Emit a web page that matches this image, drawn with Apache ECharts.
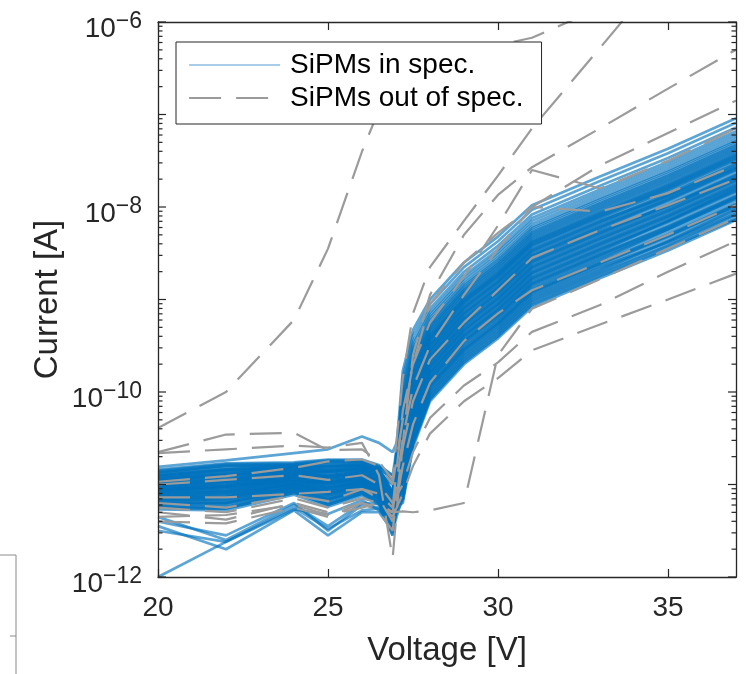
<!DOCTYPE html>
<html><head><meta charset="utf-8">
<script src="https://cdn.jsdelivr.net/npm/echarts@6/dist/echarts.min.js"></script>
<style>html,body{margin:0;padding:0;background:#fff;}#c{width:746px;height:674px;}</style>
</head><body><div id="c"></div>
<script>
// Measurement voltages (V)
const voltages = [20,22,24,25,26,26.5,26.9,27.2,27.5,28,29,30,31,33,35,37];

// log10 of current (A) for each SiPM in spec, one row per device
const inSpecLog10Current = [
[-11.00,-10.96,-10.89,-10.92,-10.88,-10.95,-11.25,-11.20,-10.60,-10.10,-9.70,-9.42,-9.08,-8.77,-8.47,-8.14],
[-11.17,-11.16,-11.03,-11.12,-11.03,-11.12,-11.40,-11.17,-10.57,-10.08,-9.68,-9.40,-9.06,-8.75,-8.45,-8.12],
[-10.90,-10.84,-10.81,-10.80,-10.79,-10.85,-11.10,-11.16,-10.56,-10.07,-9.67,-9.39,-9.05,-8.74,-8.44,-8.13],
[-11.08,-11.06,-10.95,-11.02,-10.95,-11.03,-11.35,-11.14,-10.54,-10.05,-9.65,-9.37,-9.03,-8.72,-8.42,-8.09],
[-11.25,-11.26,-11.09,-11.22,-11.10,-11.20,-11.50,-11.12,-10.53,-10.04,-9.64,-9.36,-9.02,-8.71,-8.41,-8.08],
[-10.95,-10.90,-10.85,-10.86,-10.83,-10.90,-11.14,-11.10,-10.50,-10.02,-9.62,-9.34,-9.00,-8.69,-8.37,-8.02],
[-11.05,-11.02,-10.93,-10.98,-10.92,-11.00,-11.10,-11.08,-10.49,-10.01,-9.61,-9.33,-8.99,-8.68,-8.38,-8.05],
[-11.13,-11.12,-10.99,-11.08,-10.99,-11.08,-11.45,-11.06,-10.47,-9.99,-9.59,-9.31,-8.97,-8.66,-8.36,-8.03],
[-10.87,-10.80,-10.79,-10.76,-10.76,-10.82,-10.95,-11.04,-10.46,-9.98,-9.58,-9.30,-8.96,-8.65,-8.38,-8.07],
[-11.20,-11.20,-11.05,-11.16,-11.06,-11.15,-11.34,-11.02,-10.43,-9.96,-9.56,-9.28,-8.94,-8.63,-8.33,-8.00],
[-10.98,-10.94,-10.87,-10.90,-10.86,-10.93,-11.30,-11.01,-10.42,-9.95,-9.55,-9.27,-8.93,-8.62,-8.32,-7.99],
[-11.40,-11.55,-11.20,-11.50,-11.22,-11.25,-11.45,-10.98,-10.40,-9.93,-9.53,-9.25,-8.91,-8.60,-8.30,-7.97],
[-11.03,-11.00,-10.91,-10.96,-10.90,-10.98,-11.42,-10.97,-10.39,-9.92,-9.52,-9.24,-8.90,-8.59,-8.29,-7.96],
[-10.93,-10.88,-10.83,-10.84,-10.81,-10.88,-11.00,-10.94,-10.37,-9.90,-9.50,-9.22,-8.88,-8.57,-8.24,-7.90],
[-11.10,-11.08,-10.97,-11.04,-10.97,-11.05,-11.26,-10.93,-10.35,-9.89,-9.49,-9.21,-8.87,-8.56,-8.26,-7.93],
[-11.15,-11.14,-11.01,-11.10,-11.01,-11.10,-11.52,-10.90,-10.33,-9.87,-9.47,-9.19,-8.85,-8.54,-8.24,-7.91],
[-10.85,-10.78,-10.77,-10.74,-10.74,-10.80,-10.90,-10.89,-10.32,-9.86,-9.46,-9.18,-8.84,-8.53,-8.23,-7.90],
[-11.23,-11.24,-11.07,-11.20,-11.08,-11.18,-11.36,-10.86,-10.30,-9.84,-9.44,-9.16,-8.82,-8.51,-8.21,-7.88],
[-11.01,-10.97,-10.90,-10.93,-10.88,-10.96,-11.30,-10.85,-10.29,-9.83,-9.43,-9.15,-8.81,-8.50,-8.20,-7.87],
[-11.07,-11.04,-10.95,-11.00,-10.94,-11.02,-11.24,-10.82,-10.26,-9.81,-9.41,-9.13,-8.79,-8.48,-8.15,-7.80],
[-10.96,-10.91,-10.86,-10.87,-10.84,-10.91,-11.35,-10.81,-10.25,-9.80,-9.40,-9.12,-8.78,-8.47,-8.17,-7.84],
[-11.27,-11.28,-11.11,-11.24,-11.12,-11.22,-11.55,-10.78,-10.23,-9.78,-9.38,-9.10,-8.76,-8.45,-8.15,-7.82],
[-10.91,-10.85,-10.82,-10.81,-10.79,-10.86,-11.11,-10.77,-10.22,-9.77,-9.37,-9.09,-8.75,-8.44,-8.14,-7.81],
[-11.12,-11.10,-10.99,-11.06,-10.98,-11.07,-11.20,-10.75,-10.19,-9.75,-9.35,-9.07,-8.73,-8.42,-8.12,-7.79],
[-11.05,-11.02,-10.93,-10.98,-10.92,-11.00,-11.38,-10.73,-10.18,-9.74,-9.34,-9.06,-8.72,-8.41,-8.11,-7.78],
[-10.81,-10.74,-10.66,-10.62,-10.48,-10.55,-10.65,-10.40,-10.16,-9.72,-9.32,-9.04,-8.70,-8.39,-8.09,-7.76],
[-11.18,-11.18,-11.03,-11.14,-11.04,-11.13,-11.32,-10.69,-10.15,-9.71,-9.31,-9.03,-8.69,-8.38,-8.08,-7.75],
[-10.99,-10.95,-10.88,-10.91,-10.87,-10.94,-11.45,-10.67,-10.12,-9.69,-9.29,-9.01,-8.67,-8.36,-8.06,-7.73],
[-12.00,-11.62,-11.27,-11.32,-11.17,-11.28,-11.44,-10.65,-10.11,-9.68,-9.28,-9.00,-8.66,-8.35,-8.05,-7.72],
[-10.94,-10.89,-10.84,-10.85,-10.82,-10.89,-11.13,-10.63,-10.09,-9.66,-9.26,-8.98,-8.64,-8.33,-8.03,-7.70],
[-11.09,-11.07,-10.96,-11.03,-10.96,-11.04,-11.50,-10.62,-10.08,-9.65,-9.25,-8.97,-8.63,-8.32,-8.02,-7.69],
[-11.02,-10.98,-10.91,-10.94,-10.89,-10.97,-11.20,-10.59,-10.06,-9.63,-9.23,-8.95,-8.61,-8.30,-8.00,-7.67],
[-11.21,-11.21,-11.06,-11.17,-11.06,-11.16,-11.35,-10.58,-10.04,-9.62,-9.22,-8.94,-8.60,-8.29,-7.99,-7.66],
[-10.86,-10.79,-10.78,-10.75,-10.75,-10.81,-10.95,-10.55,-10.02,-9.60,-9.20,-8.92,-8.58,-8.27,-7.97,-7.64],
[-11.14,-11.13,-11.00,-11.09,-11.00,-11.09,-11.29,-10.54,-10.01,-9.59,-9.19,-8.91,-8.57,-8.26,-7.99,-7.68],
[-10.97,-10.92,-10.87,-10.88,-10.85,-10.92,-11.30,-10.51,-9.99,-9.57,-9.17,-8.89,-8.55,-8.24,-7.94,-7.61],
[-11.06,-11.03,-10.94,-10.99,-10.93,-11.01,-11.48,-10.50,-9.97,-9.56,-9.16,-8.88,-8.54,-8.23,-7.93,-7.60],
[-11.25,-11.26,-11.09,-11.22,-11.10,-11.20,-11.38,-10.47,-9.95,-9.54,-9.14,-8.86,-8.52,-8.21,-7.91,-7.58],
[-10.92,-10.86,-10.83,-10.82,-10.80,-10.87,-11.00,-10.46,-9.94,-9.53,-9.13,-8.85,-8.51,-8.20,-7.90,-7.57],
[-11.11,-11.09,-10.98,-11.05,-10.97,-11.06,-11.40,-10.43,-9.92,-9.51,-9.11,-8.83,-8.49,-8.18,-7.88,-7.55],
[-11.04,-11.01,-10.92,-10.97,-10.91,-10.99,-11.21,-10.42,-9.91,-9.50,-9.10,-8.82,-8.48,-8.17,-7.87,-7.54],
[-10.88,-10.82,-10.79,-10.78,-10.77,-10.83,-11.08,-10.39,-9.88,-9.48,-9.08,-8.80,-8.46,-8.15,-7.88,-7.57],
[-11.16,-11.15,-11.02,-11.11,-11.02,-11.11,-11.45,-10.38,-9.87,-9.47,-9.07,-8.79,-8.45,-8.14,-7.84,-7.51],
[-11.00,-10.96,-10.89,-10.92,-10.88,-10.95,-11.18,-10.36,-9.85,-9.45,-9.05,-8.77,-8.43,-8.12,-7.82,-7.49],
[-11.50,-11.62,-11.25,-11.48,-11.28,-11.26,-11.45,-10.34,-9.84,-9.44,-9.04,-8.76,-8.42,-8.11,-7.81,-7.48],
[-10.95,-10.90,-10.85,-10.86,-10.83,-10.90,-11.28,-10.32,-9.81,-9.42,-9.02,-8.74,-8.40,-8.09,-7.79,-7.46],
[-11.08,-11.06,-10.95,-11.02,-10.95,-11.03,-11.24,-10.30,-9.80,-9.41,-9.01,-8.73,-8.39,-8.08,-7.78,-7.45],
[-10.90,-10.84,-10.81,-10.80,-10.79,-10.85,-11.10,-10.28,-9.78,-9.39,-8.99,-8.71,-8.37,-8.06,-7.76,-7.43],
[-11.19,-11.19,-11.04,-11.15,-11.05,-11.14,-11.50,-10.26,-9.77,-9.38,-8.98,-8.70,-8.36,-8.05,-7.75,-7.42],
[-11.03,-11.00,-10.91,-10.96,-10.90,-10.98,-11.20,-10.24,-9.74,-9.36,-8.96,-8.68,-8.34,-8.03,-7.73,-7.40],
[-11.13,-11.12,-10.99,-11.08,-10.99,-11.08,-11.28,-10.23,-9.73,-9.35,-8.95,-8.67,-8.33,-8.02,-7.72,-7.39],
[-10.84,-10.77,-10.76,-10.73,-10.73,-10.79,-10.90,-10.20,-9.71,-9.33,-8.93,-8.65,-8.31,-8.00,-7.70,-7.37],
[-11.22,-11.22,-11.07,-11.18,-11.07,-11.17,-11.36,-10.19,-9.70,-9.32,-8.92,-8.64,-8.30,-7.99,-7.69,-7.36],
[-10.98,-10.94,-10.87,-10.90,-10.86,-10.93,-11.25,-10.16,-9.68,-9.30,-8.90,-8.62,-8.28,-7.97,-7.67,-7.34],
[-11.06,-11.03,-10.94,-10.99,-10.93,-11.01,-11.23,-10.15,-9.66,-9.29,-8.89,-8.61,-8.27,-7.96,-7.66,-7.33],
[-10.93,-10.88,-10.83,-10.84,-10.81,-10.88,-11.12,-10.12,-9.64,-9.27,-8.87,-8.59,-8.25,-7.94,-7.64,-7.31],
[-11.35,-11.60,-11.22,-11.45,-11.20,-11.21,-11.42,-10.10,-9.62,-9.25,-8.85,-8.57,-8.23,-7.92,-7.62,-7.29],
[-11.01,-10.97,-10.90,-10.93,-10.88,-10.96,-11.35,-10.07,-9.59,-9.23,-8.83,-8.55,-8.21,-7.90,-7.60,-7.27],
[-11.15,-11.14,-11.01,-11.10,-11.01,-11.10,-11.30,-10.03,-9.56,-9.20,-8.80,-8.52,-8.18,-7.87,-7.57,-7.24],
[-10.87,-10.80,-10.79,-10.76,-10.76,-10.82,-11.08,-9.99,-9.53,-9.17,-8.77,-8.49,-8.15,-7.84,-7.54,-7.21],
[-11.10,-11.08,-10.97,-11.04,-10.97,-11.05,-11.26,-9.95,-9.49,-9.14,-8.74,-8.46,-8.12,-7.81,-7.51,-7.18],
[-10.96,-10.91,-10.86,-10.87,-10.84,-10.91,-11.15,-9.90,-9.45,-9.10,-8.70,-8.42,-8.08,-7.77,-7.47,-7.14],
[-11.45,-11.70,-11.28,-11.55,-11.30,-11.30,-11.50,-9.84,-9.39,-9.05,-8.65,-8.37,-8.03,-7.72,-7.42,-7.09],
[-10.91,-10.85,-10.82,-10.81,-10.79,-10.86,-11.11,-9.77,-9.33,-9.00,-8.60,-8.32,-7.98,-7.67,-7.37,-7.04],
[-11.05,-11.02,-10.93,-10.98,-10.92,-11.00,-11.30,-10.88,-10.31,-9.85,-9.45,-9.17,-8.83,-8.52,-8.22,-7.89],
[-11.17,-11.16,-11.03,-11.12,-11.03,-11.12,-11.32,-10.72,-10.17,-9.73,-9.33,-9.05,-8.71,-8.40,-8.10,-7.77],
[-10.99,-10.95,-10.88,-10.91,-10.87,-10.94,-11.17,-10.56,-10.03,-9.61,-9.21,-8.93,-8.59,-8.28,-7.98,-7.65],
[-11.24,-11.25,-11.08,-11.21,-11.09,-11.19,-11.55,-10.41,-9.89,-9.49,-9.09,-8.81,-8.47,-8.16,-7.86,-7.53],
[-10.94,-10.89,-10.84,-10.85,-10.82,-10.89,-11.13,-10.29,-9.79,-9.40,-9.00,-8.72,-8.38,-8.07,-7.77,-7.44],
[-11.07,-11.04,-10.95,-11.00,-10.94,-11.02,-11.24,-10.99,-10.41,-9.94,-9.54,-9.26,-8.92,-8.61,-8.31,-7.98],
[-10.89,-10.83,-10.80,-10.79,-10.78,-10.84,-11.09,-10.80,-10.24,-9.79,-9.39,-9.11,-8.77,-8.46,-8.16,-7.83],
[-11.12,-11.10,-10.99,-11.06,-10.98,-11.07,-11.42,-10.49,-9.96,-9.55,-9.15,-8.87,-8.53,-8.22,-7.92,-7.59],
[-11.02,-10.98,-10.91,-10.94,-10.89,-10.97,-11.20,-10.33,-9.82,-9.43,-9.03,-8.75,-8.41,-8.10,-7.80,-7.47],
[-11.20,-11.20,-11.05,-11.16,-11.06,-11.15,-11.34,-10.64,-10.10,-9.67,-9.27,-8.99,-8.65,-8.34,-8.04,-7.71]
];

// log10 of current (A) for each SiPM out of spec
const outOfSpecLog10Current = [
[-10.39,-10.00,-9.22,-8.45,-7.40,-6.95,-6.70,-6.55,-6.45,-6.38,-6.32,-6.25,-6.17,-5.85,-5.55,-5.25],
[-10.65,-10.46,-10.44,-10.63,-10.62,-10.75,-10.95,-9.85,-9.15,-8.65,-8.15,-7.66,-7.15,-6.28,-5.40,-4.60],
[-10.66,-10.62,-10.58,-10.60,-10.55,-10.90,-11.80,-10.55,-9.60,-8.95,-8.30,-7.87,-7.57,-7.15,-6.72,-6.30],
[-10.97,-10.91,-10.82,-10.75,-10.73,-10.80,-11.00,-10.30,-9.70,-9.05,-8.60,-8.28,-8.00,-7.55,-7.20,-6.85],
[-11.14,-11.14,-11.10,-11.08,-11.05,-11.10,-11.25,-10.20,-9.70,-9.25,-8.75,-8.20,-7.60,-7.80,-7.50,-7.15],
[-11.35,-11.33,-11.22,-11.33,-11.25,-11.20,-11.30,-10.50,-9.95,-9.50,-8.95,-8.45,-8.00,-8.05,-7.85,-7.55],
[-11.40,-11.42,-11.25,-11.35,-11.20,-11.30,-11.50,-10.60,-10.10,-9.65,-9.25,-8.90,-8.55,-8.25,-7.98,-7.70],
[-11.20,-11.25,-11.12,-11.18,-11.05,-11.15,-11.40,-10.80,-10.35,-9.90,-9.45,-9.15,-8.90,-8.60,-8.30,-7.98],
[-11.00,-10.95,-10.90,-10.95,-10.90,-11.00,-11.20,-11.00,-10.65,-10.28,-9.93,-9.68,-9.35,-9.06,-8.70,-8.37],
[-11.25,-11.30,-11.15,-11.25,-11.15,-11.20,-11.35,-11.10,-10.80,-10.45,-10.10,-9.85,-9.55,-9.27,-9.00,-8.72],
[-11.30,-11.38,-11.20,-11.30,-11.20,-11.25,-11.30,-11.29,-11.30,-11.28,-11.20,-9.60,-9.10,-8.78,-8.45,-8.12]
];

// Axis ranges and ticks
const xMin = 20, xMax = 37, xInterval = 5;
const yMin = 1e-12, yMax = 1e-6;
const yMajorTicks = [1e-12,1e-11,1e-10,1e-9,1e-8,1e-7,1e-6];
const yMinorTicks = [
 2e-12,3e-12,4e-12,5e-12,6e-12,7e-12,8e-12,9e-12,
 2e-11,3e-11,4e-11,5e-11,6e-11,7e-11,8e-11,9e-11,
 2e-10,3e-10,4e-10,5e-10,6e-10,7e-10,8e-10,9e-10,
 2e-9,3e-9,4e-9,5e-9,6e-9,7e-9,8e-9,9e-9,
 2e-8,3e-8,4e-8,5e-8,6e-8,7e-8,8e-8,9e-8,
 2e-7,3e-7,4e-7,5e-7,6e-7,7e-7,8e-7,9e-7
];

const FONT = "'Liberation Sans', Arial, Helvetica, sans-serif";
const AX = '#262626';
const BLUE = '#0072BD';
const GRAY = '#9b9b9b';

const series = [];
inSpecLog10Current.forEach(row => {
  series.push({
    name: 'SiPMs in spec.', type: 'line', symbol: 'none', showSymbol: false,
    silent: true, legendHoverLink: false, z: 2,
    emphasis: {disabled: true},
    itemStyle: {color: BLUE},
    lineStyle: {color: BLUE, width: 2.7, opacity: 0.64},
    data: voltages.map((v, i) => [v, Math.pow(10, row[i])])
  });
});
outOfSpecLog10Current.forEach(row => {
  series.push({
    name: 'SiPMs out of spec.', type: 'line', symbol: 'none', showSymbol: false,
    silent: true, legendHoverLink: false, z: 3,
    emphasis: {disabled: true},
    itemStyle: {color: GRAY},
    lineStyle: {color: GRAY, width: 2.2, type: [32, 15], opacity: 1},
    data: voltages.map((v, i) => [v, Math.pow(10, row[i])])
  });
});
// log-axis ticks drawn on left and right frame through the y scale
series.push({
  type: 'custom', name: 'yTicks', silent: true, z: 10, clip: false,
  encode: {x: 0, y: 1},
  data: yMinorTicks.map(v => [xMin, v, 0]).concat(yMajorTicks.map(v => [xMin, v, 1])),
  renderItem: function (params, api) {
    const v = api.value(1);
    const major = api.value(2) === 1;
    const pl = api.coord([xMin, v]);
    const pr = api.coord([xMax, v]);
    const len = major ? 8 : 4.5;
    const st = {stroke: AX, lineWidth: 1.2};
    return {type: 'group', children: [
      {type: 'line', shape: {x1: pl[0], y1: pl[1], x2: pl[0] + len, y2: pl[1]}, style: st},
      {type: 'line', shape: {x1: pr[0], y1: pr[1], x2: pr[0] - len, y2: pr[1]}, style: st}
    ]};
  }
});

const chart = echarts.init(document.getElementById('c'), null, {renderer: 'canvas'});
chart.setOption({
  animation: false,
  backgroundColor: '#fff',
  grid: {left: 158, right: 10, top: 22, bottom: 97, containLabel: false, outerBoundsMode: 'none'},
  legend: {
    orient: 'vertical', left: 176, top: 42, z: 20,
    padding: [9, 18, 12, 12], itemGap: 5, itemWidth: 91, itemHeight: 14,
    backgroundColor: '#fff', borderColor: AX, borderWidth: 1, borderRadius: 0,
    selectedMode: false,
    formatter: n => '{t|' + n + '}',
    textStyle: {color: '#000', fontFamily: FONT, fontSize: 28, lineHeight: 28,
      rich: {t: {color: '#000', fontFamily: FONT, fontSize: 28, lineHeight: 28, padding: [0, 0, 0, 5]}}},
    data: [
      {name: 'SiPMs in spec.', itemStyle: {opacity: 0, borderWidth: 0},
        lineStyle: {color: '#a9cde8', width: 2.2, type: 'solid', opacity: 1}},
      {name: 'SiPMs out of spec.', itemStyle: {opacity: 0, borderWidth: 0},
        lineStyle: {color: GRAY, width: 2.2, type: [32, 15], opacity: 1}}
    ]
  },
  xAxis: [{
    type: 'value', min: xMin, max: xMax, interval: xInterval, position: 'bottom', z: 12,
    axisLine: {show: true, onZero: false, lineStyle: {color: AX, width: 1.3}},
    axisTick: {show: true, inside: true, length: 8, lineStyle: {color: AX, width: 1.2}},
    axisLabel: {show: true, margin: 17, fontSize: 28, color: AX, fontFamily: FONT, showMaxLabel: false},
    splitLine: {show: false},
    name: 'Voltage [V]', nameLocation: 'middle', nameGap: 57, nameMoveOverlap: false,
    nameTextStyle: {fontSize: 33, color: AX, fontFamily: FONT}
  }, {
    type: 'value', min: xMin, max: xMax, interval: xInterval, position: 'top', z: 12,
    axisLine: {show: true, onZero: false, lineStyle: {color: AX, width: 1.3}},
    axisTick: {show: true, inside: true, length: 8, lineStyle: {color: AX, width: 1.2}},
    axisLabel: {show: false}, splitLine: {show: false}
  }],
  yAxis: [{
    type: 'log', logBase: 10, min: yMin, max: yMax, position: 'left', z: 12,
    axisLine: {show: true, onZero: false, lineStyle: {color: AX, width: 1.3}},
    axisTick: {show: false}, splitLine: {show: false}, minorTick: {show: false},
    axisLabel: {
      show: true, margin: 16, color: AX, fontFamily: FONT,
      formatter: function (value) {
        const e = Math.round(Math.log10(value));
        return (e % 2 === 0) ? '{b|10}{s|\u2212' + Math.abs(e) + '}' : '';
      },
      rich: {
        b: {fontSize: 28, fontFamily: FONT, color: AX, lineHeight: 30, padding: [14, 0, 0, 0]},
        s: {fontSize: 23, fontFamily: FONT, color: AX, lineHeight: 24, verticalAlign: 'top', padding: [3, 0, 0, 0]}
      }
    },
    name: 'Current [A]', nameLocation: 'middle', nameGap: 94, nameMoveOverlap: false,
    nameTextStyle: {fontSize: 33, color: AX, fontFamily: FONT}
  }, {
    type: 'log', logBase: 10, min: yMin, max: yMax, position: 'right', z: 12,
    axisLine: {show: true, onZero: false, lineStyle: {color: AX, width: 1.3}},
    axisTick: {show: false}, axisLabel: {show: false}, splitLine: {show: false}
  }],
  graphic: [
    {type: 'polyline', silent: true, shape: {points: [[0, 555], [16, 555], [16, 674]]}, style: {stroke: '#8a8a8a', lineWidth: 1, fill: null}},
    {type: 'line', silent: true, shape: {x1: 10, y1: 636, x2: 16, y2: 636}, style: {stroke: '#8a8a8a', lineWidth: 1}}
  ],
  series: series
});
</script>
</body></html>
